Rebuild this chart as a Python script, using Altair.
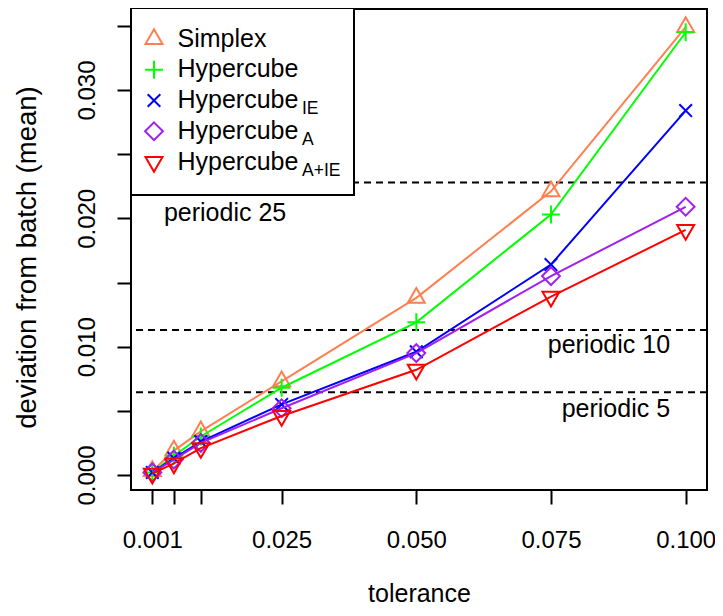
import altair as alt
import pandas as pd

# ---------------- data ----------------
tolerance = [0.001, 0.005, 0.01, 0.025, 0.05, 0.075, 0.1]
series_keys = ["Simplex", "Hypercube", "Hypercube_IE", "Hypercube_A", "Hypercube_A+IE"]
series_names = ["Simplex", "Hypercube", "Hypercube", "Hypercube", "Hypercube"]
series_subs = ["", "", "IE", "A", "A+IE"]
simplex = [0.0003, 0.0019, 0.0034, 0.0073, 0.0138, 0.0221, 0.0349]
hypercube = [0.0002, 0.0015, 0.0030, 0.0068, 0.0119, 0.0203, 0.0345]
hypercube_ie = [0.0002, 0.0013, 0.0026, 0.0055, 0.0096, 0.0164, 0.0284]
hypercube_a = [0.0002, 0.0012, 0.0025, 0.0052, 0.0095, 0.0155, 0.0209]
hypercube_aie = [0.0001, 0.0009, 0.0021, 0.0046, 0.0082, 0.0139, 0.0191]
series_values = [simplex, hypercube, hypercube_ie, hypercube_a, hypercube_aie]
colors = ["#FF7F50", "#00FF00", "#0000FF", "#A020F0", "#FF0000"]

periodic_labels = ["periodic 25", "periodic 10", "periodic 5"]
periodic_values = [0.0228, 0.0113, 0.00645]

x_ticks = [0.001, 0.005, 0.01, 0.025, 0.05, 0.075, 0.1]
y_ticks = [0.0, 0.005, 0.01, 0.015, 0.02, 0.025, 0.03, 0.035]

# ---------------- styling ----------------
FONT = "Liberation Sans, Arial, sans-serif"
FS = 25
XLAB_FS = 24
YLAB_FS = 24
YTITLE_FS = 27.5
SUB_FS = 17.5
W, H = 576, 481

# R-like symbols (unit = symbol radius)
shapes = [
    "M0,-1.555L1.3468,0.7776L-1.3468,0.7776Z",        # triangle up
    "M-1.414,0L1.414,0M0,-1.414L0,1.414",             # plus
    "M-1,-1L1,1M-1,1L1,-1",                           # x
    "M0,-1.414L1.414,0L0,1.414L-1.414,0Z",            # diamond
    "M0,1.555L1.3468,-0.7776L-1.3468,-0.7776Z",       # triangle down
]
SYM_SIZE = 159

x_scale = alt.Scale(domain=[-0.00296, 0.10396], nice=False, zero=False)
y_scale = alt.Scale(domain=[-0.001169, 0.036313], nice=False, zero=False)

x_axis = alt.Axis(
    values=x_ticks,
    labelExpr="(datum.value > 0.002 && datum.value < 0.02) ? '' : format(datum.value, '.3f')",
    title="tolerance",
    grid=False, domain=False,
    tickSize=14, tickWidth=2, tickColor="black",
    labelFont=FONT, labelFontSize=XLAB_FS, labelColor="black",
    labelBaseline="alphabetic", labelAlign="center", labelPadding=43,
    labelOverlap=False, labelFlush=False,
    titleFont=FONT, titleFontSize=FS, titleFontWeight="normal", titleColor="black",
    titleX=W / 2, titleY=111, titleBaseline="alphabetic", titleAlign="center",
)
y_axis = alt.Axis(
    values=y_ticks,
    labelExpr="(round(datum.value * 1000) % 10 == 0) ? format(datum.value, '.3f') : ''",
    title="deviation from batch (mean)",
    grid=False, domain=False,
    tickSize=14, tickWidth=2, tickColor="black",
    labelFont=FONT, labelFontSize=YLAB_FS, labelColor="black",
    labelAngle=270, labelAlign="center", labelBaseline="alphabetic", labelPadding=23,
    labelOverlap=False, labelFlush=False,
    titleFont=FONT, titleFontSize=YTITLE_FS, titleFontWeight="normal", titleColor="black",
    titleAngle=270, titleX=-95.5, titleY=248, titleBaseline="alphabetic", titleAlign="center",
)

# ---------------- tables ----------------
rows = []
for key, vals in zip(series_keys, series_values):
    for t, v in zip(tolerance, vals):
        rows.append({"series": key, "tolerance": t, "dev": v})
df = pd.DataFrame(rows)

periodic_df = pd.DataFrame({"label": periodic_labels, "value": periodic_values})
# label anchors (annotation placement)
periodic_df["tx"] = [0.0145, 0.0971, 0.0971]
periodic_df["ty"] = [0.01983, 0.00948, 0.00454]
periodic_df["align"] = ["center", "right", "right"]

layers = []

rules = alt.Chart(periodic_df).mark_rule(
    color="black", strokeWidth=2, strokeDash=[7, 5]
).encode(y=alt.Y("value:Q", scale=y_scale, axis=y_axis))
layers.append(rules)

for al in ["center", "right"]:
    sub = periodic_df[periodic_df["align"] == al]
    layers.append(
        alt.Chart(sub).mark_text(
            font=FONT, fontSize=FS, color="black", align=al, baseline="alphabetic"
        ).encode(
            x=alt.X("tx:Q", scale=x_scale, axis=x_axis),
            y=alt.Y("ty:Q", scale=y_scale, axis=y_axis),
            text="label:N",
        )
    )

for key, col, shp in zip(series_keys, colors, shapes):
    sdf = df[df["series"] == key]
    base = alt.Chart(sdf).encode(
        x=alt.X("tolerance:Q", scale=x_scale, axis=x_axis),
        y=alt.Y("dev:Q", scale=y_scale, axis=y_axis),
    )
    layers.append(base.mark_line(color=col, strokeWidth=2))
    layers.append(base.mark_point(shape=shp, size=SYM_SIZE, filled=False,
                                  color=col, strokeWidth=2, opacity=1))

# ---------------- manual legend (with subscripts) ----------------
one = alt.Data(values=[{"k": 0}])
layers.append(
    alt.Chart(one).mark_rect(fill="white", stroke="black", strokeWidth=2).encode(
        x=alt.value(0), x2=alt.value(223), y=alt.value(-1), y2=alt.value(186)
    )
)
for i, (name, sub, col, shp) in enumerate(zip(series_names, series_subs, colors, shapes)):
    cy = 30 + i * 30.75
    layers.append(
        alt.Chart(one).mark_point(shape=shp, size=SYM_SIZE, filled=False,
                                  color=col, strokeWidth=2, opacity=1).encode(
            x=alt.value(23), y=alt.value(cy)
        )
    )
    layers.append(
        alt.Chart(one).mark_text(text=name, font=FONT, fontSize=FS, color="black",
                                 align="left", baseline="alphabetic").encode(
            x=alt.value(46.5), y=alt.value(cy + 7.7)
        )
    )
    if sub:
        layers.append(
            alt.Chart(one).mark_text(text=sub, font=FONT, fontSize=SUB_FS, color="black",
                                     align="left", baseline="alphabetic").encode(
                x=alt.value(171), y=alt.value(cy + 13.7)
            )
        )

chart = alt.layer(*layers).properties(
    width=W, height=H,
    autosize=alt.AutoSizeParams(type="none"),
    padding={"left": 123, "top": 1, "right": 8, "bottom": 118},
).configure_view(stroke="black", strokeWidth=2)

chart.save("out.html", embed_options={"renderer": "svg", "actions": False})
